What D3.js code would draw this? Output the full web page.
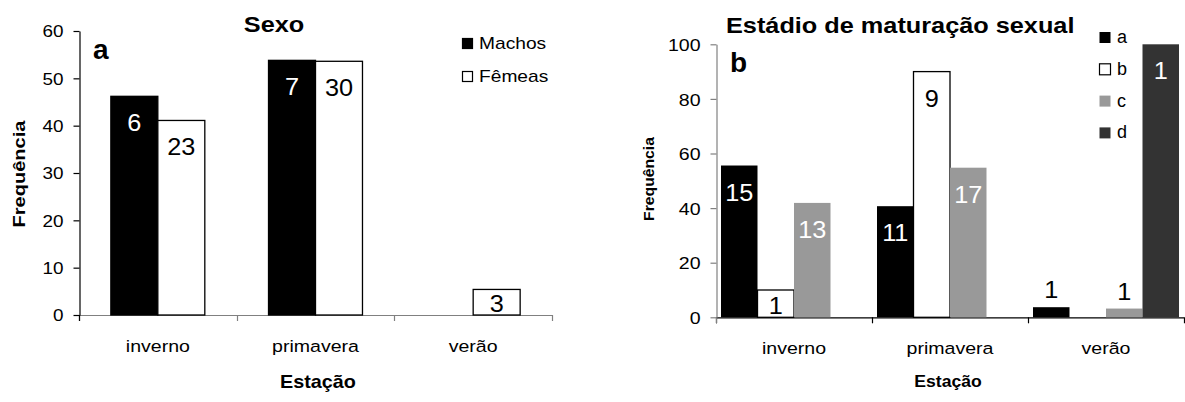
<!DOCTYPE html>
<html><head><meta charset="utf-8">
<script src="https://cdn.jsdelivr.net/npm/d3@7"></script>
<style>body{margin:0;background:#fff} text{font-family:"Liberation Sans",Arial,sans-serif}</style>
</head><body><svg id="c" width="1185" height="402"></svg>
<script>
// ---------- data ----------
const categories = ["inverno", "primavera", "verão"];

// Panel a: Sexo (percentage per sex, labels = counts)
const sexSeries = ["Machos", "Fêmeas"];
const machosPct = [46.2, 53.8, 0];
const femeasPct = [41.1, 53.6, 5.4];
const machosN = [6, 7, null];
const femeasN = [23, 30, 3];
const yTicksA = [0, 10, 20, 30, 40, 50, 60];

// Panel b: Estádio de maturação sexual
const stageSeries = ["a", "b", "c", "d"];
const stageAPct = [55.6, 40.7, 3.7];
const stageBPct = [10.0, 90.0, 0];
const stageCPct = [41.9, 54.8, 3.2];
const stageDPct = [0, 0, 100];
const stageAN = [15, 11, 1];
const stageBN = [1, 9, null];
const stageCN = [13, 17, 1];
const stageDN = [null, null, 1];
const yTicksB = [0, 20, 40, 60, 80, 100];

// ---------- helpers ----------
const svg = d3.select("#c");
svg.append("rect").attr("width", 1185).attr("height", 402).attr("fill", "#fff");

function txt(g, s, x, y, o) {
  o = o || {};
  return g.append("text")
    .attr("transform", `translate(${x},${y})` + (o.rot ? ` rotate(${o.rot})` : "") + ` scale(${o.sx || 1},1)`)
    .attr("text-anchor", o.anchor || "start")
    .style("font-size", o.size + "px")
    .style("font-weight", o.weight || "normal")
    .attr("fill", o.fill || "#000")
    .text(s);
}

function panel(cfg) {
  const g = svg.append("g");
  const x = d3.scaleBand().domain(categories).range([cfg.x0, cfg.x1]).padding(0);
  const xs = d3.scaleBand().domain(cfg.series.map(s => s.name))
    .range([0, x.bandwidth()]).paddingInner(0).paddingOuter(cfg.outerPad);
  const y = d3.scaleLinear().domain([0, cfg.yMax]).range([cfg.yBase, cfg.yTop]);

  // x axis line
  g.append("line").attr("x1", cfg.x0).attr("x2", cfg.x1)
    .attr("y1", cfg.yBase + 0.5).attr("y2", cfg.yBase + 0.5)
    .attr("stroke", cfg.xAxisColor).attr("stroke-width", 1.2);
  const bounds = categories.map(c => x(c)).concat([cfg.x1]);
  g.selectAll(".xt").data(bounds).enter().append("line")
    .attr("x1", d => Math.round(d) + 0.5).attr("x2", d => Math.round(d) + 0.5)
    .attr("y1", cfg.yBase).attr("y2", cfg.yBase + 6)
    .attr("stroke", cfg.xAxisColor).attr("stroke-width", 1.2);

  // bars
  cfg.series.forEach(s => {
    categories.forEach((c, i) => {
      const v = s.values[i];
      if (v > 0) {
        g.append("rect")
          .attr("x", x(c) + xs(s.name)).attr("y", y(v))
          .attr("width", xs.bandwidth()).attr("height", cfg.yBase - y(v))
          .attr("fill", s.fill)
          .attr("stroke", s.stroke || "none").attr("stroke-width", s.stroke ? 1.3 : 0);
      }
    });
  });

  // y axis
  const ya = g.append("g").attr("transform", `translate(${cfg.x0 + 0.5},0)`)
    .call(d3.axisLeft(y).tickValues(cfg.ticks).tickSize(6).tickSizeOuter(0));
  ya.select(".domain").attr("stroke", cfg.yAxisColor).attr("stroke-width", 1.2);
  ya.selectAll(".tick line").attr("stroke", cfg.yAxisColor).attr("stroke-width", 1.2);
  ya.selectAll(".tick text").attr("x", null).attr("dy", "0.36em")
    .attr("transform", `translate(-16,0) scale(${cfg.tickSx},1)`)
    .style("font-family", '"Liberation Sans",Arial,sans-serif')
    .style("font-size", cfg.tickSize + "px").attr("fill", "#000");
  g.append("line").attr("x1", cfg.x0 + 0.5).attr("x2", cfg.x0 + 0.5)
    .attr("y1", cfg.yBase).attr("y2", cfg.yBase + 6)
    .attr("stroke", cfg.yAxisColor).attr("stroke-width", 1.2);

  // data labels
  cfg.series.forEach(s => {
    categories.forEach((c, i) => {
      const lab = s.labels[i];
      if (lab == null) return;
      const v = s.values[i];
      const top = y(v), h = cfg.yBase - top;
      const cx = x(c) + xs(s.name) + xs.bandwidth() / 2;
      let by, fill;
      if (h >= 24) { by = Math.min(top + 35, cfg.yBase - 3); fill = s.labelFill; }
      else { by = top - 9; fill = "#000"; }
      txt(g, lab, cx, by, {size: 23, sx: 1.1, anchor: "middle", fill: fill});
    });
  });

  // category labels
  categories.forEach(c => {
    txt(g, c, x(c) + x.bandwidth() / 2, cfg.catY, {size: 17, sx: 1.15, anchor: "middle"});
  });
  return g;
}

// ---------- panel a ----------
const ga = panel({
  x0: 79, x1: 552, yBase: 315, yTop: 31, yMax: 60, ticks: yTicksA, outerPad: 0.678,
  xAxisColor: "#808080", yAxisColor: "#000", tickSize: 16, tickSx: 1.18, catY: 352,
  series: [
    {name: sexSeries[0], values: machosPct, labels: machosN, fill: "#000", stroke: "#000", labelFill: "#fff"},
    {name: sexSeries[1], values: femeasPct, labels: femeasN, fill: "#fff", stroke: "#000", labelFill: "#000"}
  ]
});
txt(ga, "Sexo", 274, 32, {size: 22, weight: "bold", sx: 1.15, anchor: "middle"});
txt(ga, "a", 93, 59, {size: 28, weight: "bold"});
txt(ga, "Frequência", 25, 174, {size: 17, weight: "bold", sx: 1.18, anchor: "middle", rot: -90});
txt(ga, "Estação", 318, 388, {size: 18, weight: "bold", sx: 1.1, anchor: "middle"});
// legend a
const legA = [{name: sexSeries[0], fill: "#000"}, {name: sexSeries[1], fill: "#fff"}];
legA.forEach((d, k) => {
  ga.append("rect").attr("x", 462.5).attr("y", 38.5 + k * 33).attr("width", 10).attr("height", 10)
    .attr("fill", d.fill).attr("stroke", "#000").attr("stroke-width", 1.2);
  txt(ga, d.name, 479, 48.5 + k * 33, {size: 16, sx: 1.2});
});

// ---------- panel b ----------
const stageFills = ["#000", "#fff", "#999999", "#333333"];
const gb = panel({
  x0: 716, x1: 1184, yBase: 317.3, yTop: 44.3, yMax: 100, ticks: yTicksB, outerPad: 0.137,
  xAxisColor: "#000", yAxisColor: "#808080", tickSize: 17, tickSx: 1.15, catY: 354,
  series: [
    {name: stageSeries[0], values: stageAPct, labels: stageAN, fill: stageFills[0], labelFill: "#fff"},
    {name: stageSeries[1], values: stageBPct, labels: stageBN, fill: stageFills[1], stroke: "#000", labelFill: "#000"},
    {name: stageSeries[2], values: stageCPct, labels: stageCN, fill: stageFills[2], labelFill: "#fff"},
    {name: stageSeries[3], values: stageDPct, labels: stageDN, fill: stageFills[3], labelFill: "#fff"}
  ]
});
txt(gb, "Estádio de maturação sexual", 726, 33, {size: 22, weight: "bold", sx: 1.15});
txt(gb, "b", 730, 72, {size: 28, weight: "bold"});
txt(gb, "Frequência", 654, 179, {size: 15, weight: "bold", sx: 1.05, anchor: "middle", rot: -90});
txt(gb, "Estação", 948, 387, {size: 16, weight: "bold", sx: 1.1, anchor: "middle"});
stageSeries.forEach((s, k) => {
  gb.append("rect").attr("x", 1099.5).attr("y", 32 + k * 31.8).attr("width", 11).attr("height", 11)
    .attr("fill", stageFills[k]).attr("stroke", k === 1 ? "#000" : "none").attr("stroke-width", 1.2);
  txt(gb, s, 1117, 43 + k * 31.8, {size: 18});
});
</script></body></html>
